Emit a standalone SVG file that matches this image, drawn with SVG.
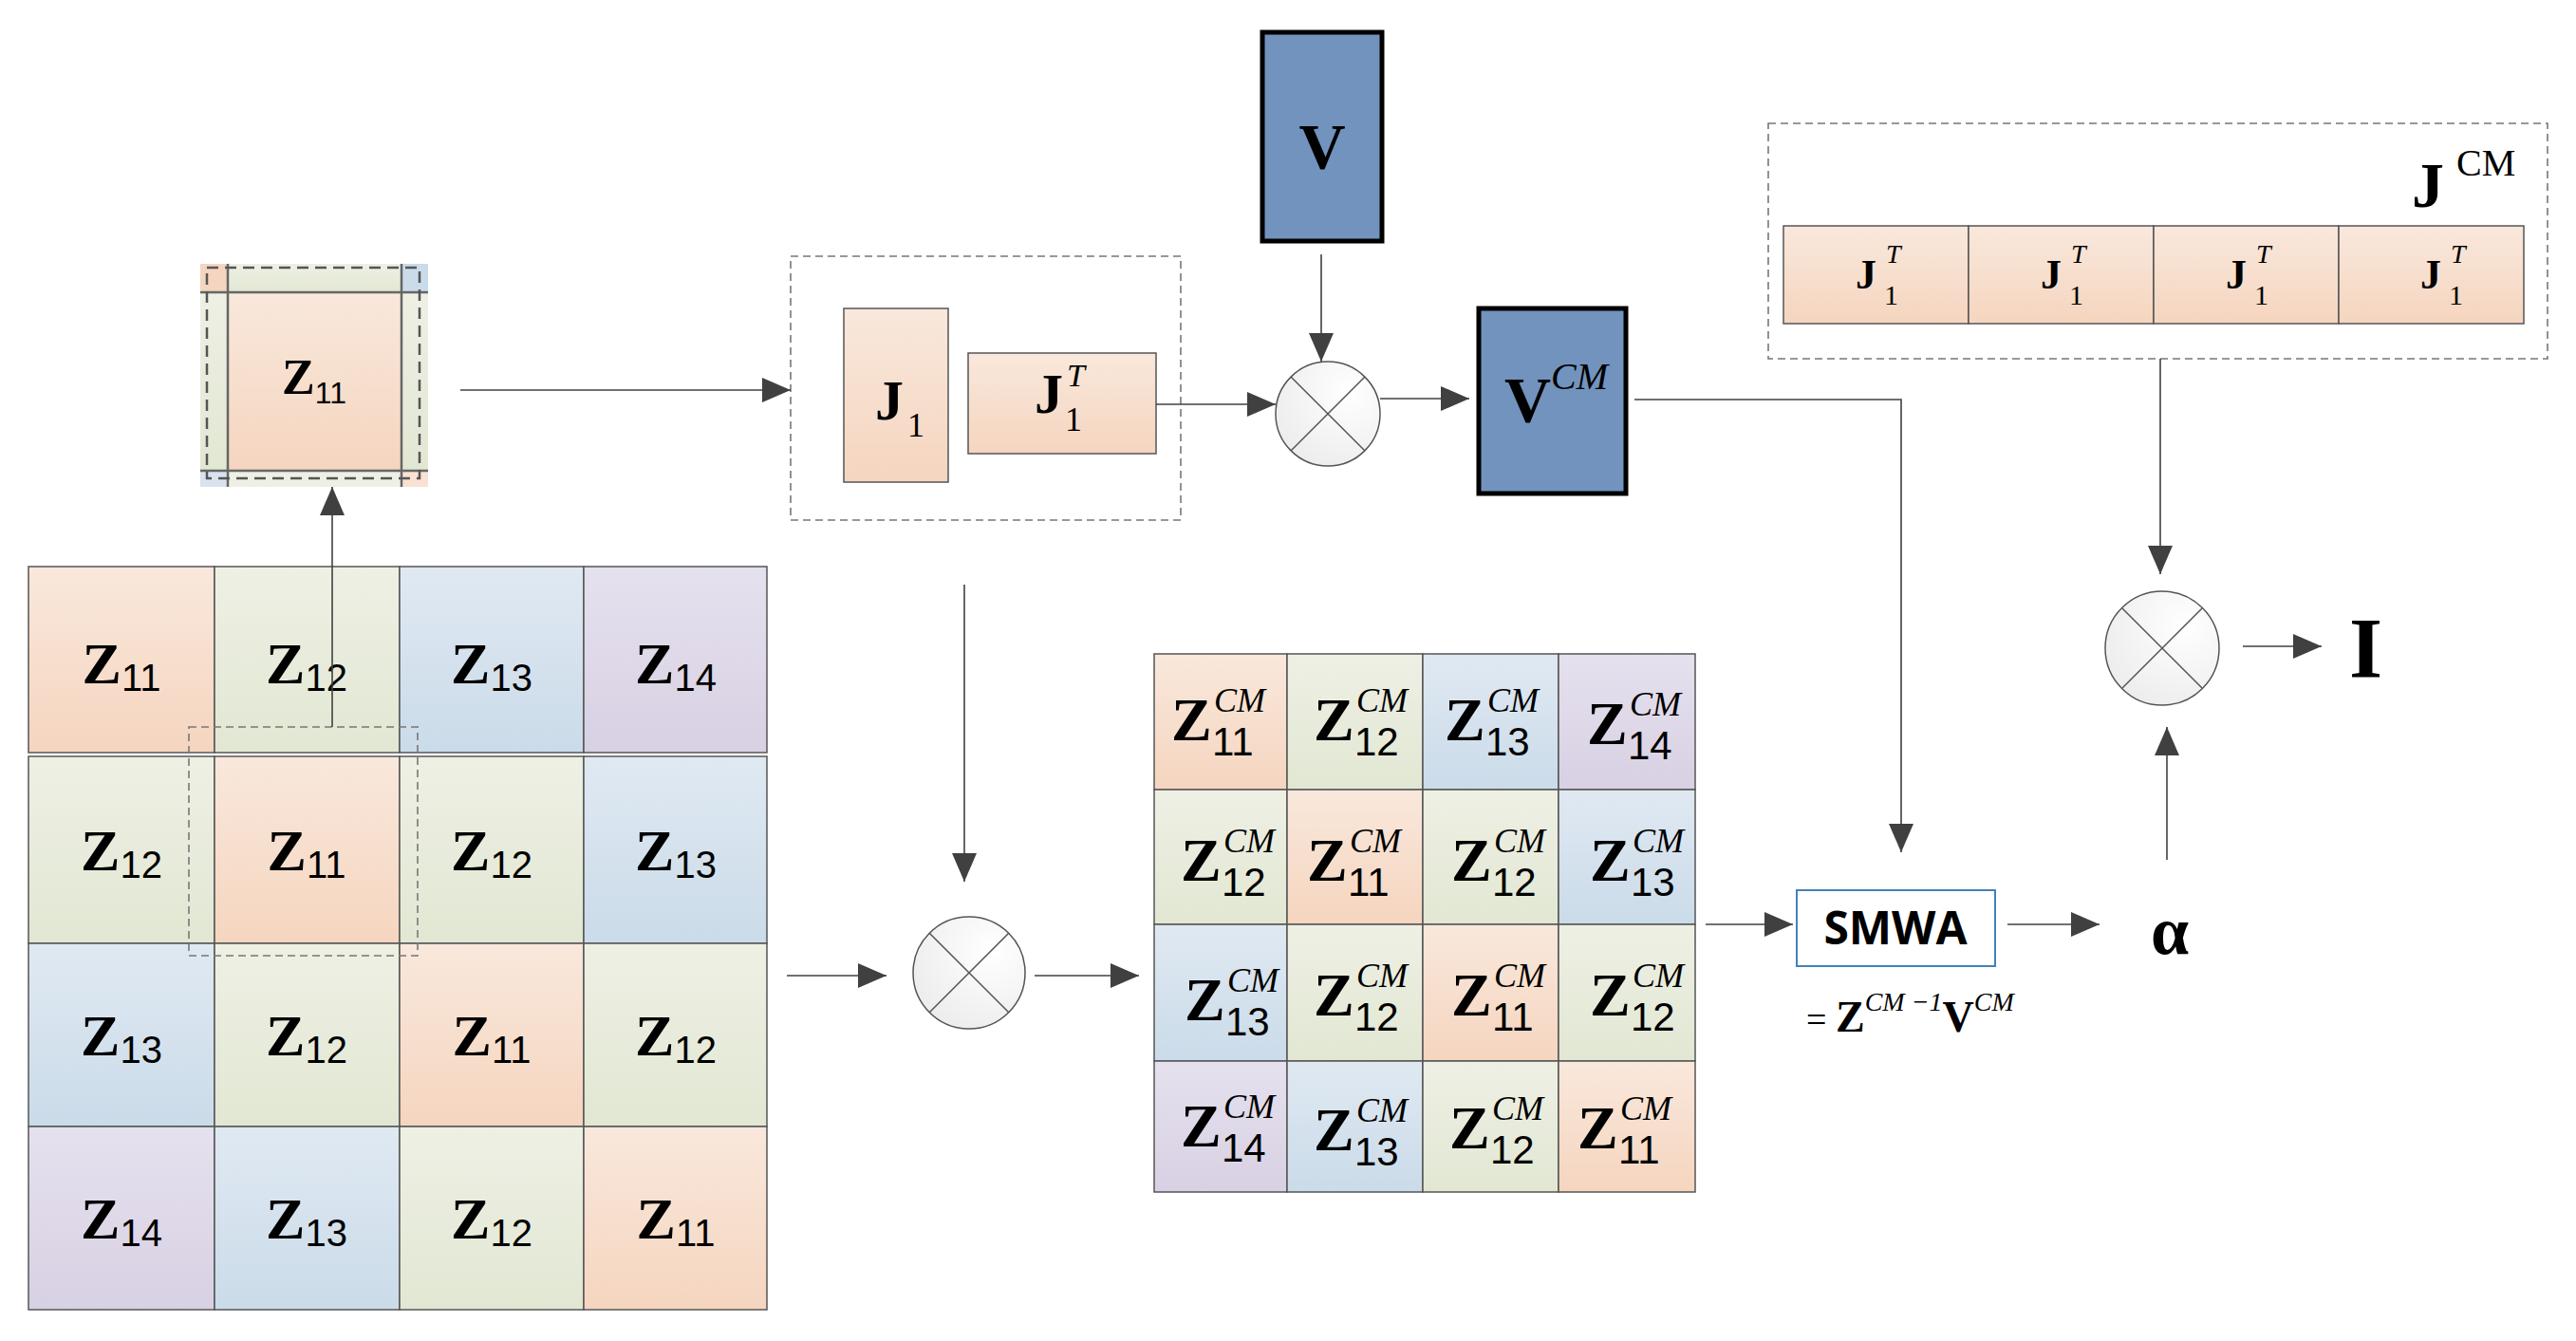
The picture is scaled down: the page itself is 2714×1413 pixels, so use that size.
<svg xmlns="http://www.w3.org/2000/svg" width="2714" height="1413" viewBox="0 0 2714 1413">
<defs>
<linearGradient id="go" x1="0" y1="0" x2="0" y2="1"><stop offset="0" stop-color="#f9e8dc"/><stop offset="1" stop-color="#f5d5bf"/></linearGradient>
<linearGradient id="gg" x1="0" y1="0" x2="0" y2="1"><stop offset="0" stop-color="#eef0e4"/><stop offset="1" stop-color="#e2e7d3"/></linearGradient>
<linearGradient id="gb" x1="0" y1="0" x2="0" y2="1"><stop offset="0" stop-color="#e0e9f2"/><stop offset="1" stop-color="#cadbe9"/></linearGradient>
<linearGradient id="gp" x1="0" y1="0" x2="0" y2="1"><stop offset="0" stop-color="#e5e1ee"/><stop offset="1" stop-color="#d8d0e3"/></linearGradient>
<radialGradient id="gc" cx="0.7" cy="0.3" r="0.8"><stop offset="0" stop-color="#ffffff"/><stop offset="1" stop-color="#ececec"/></radialGradient>
<marker id="ah" markerUnits="userSpaceOnUse" markerWidth="30" markerHeight="26" refX="30" refY="13" orient="auto"><path d="M0,0 L30,13 L0,26 Z" fill="#404040"/></marker>
</defs>
<style>
.c{stroke:#555;stroke-width:1.5}
.ln{stroke:#404040;stroke-width:1.6;fill:none}
.dash{stroke:#777;stroke-width:1.6;fill:none;stroke-dasharray:8 5}
.z{font-family:"Liberation Serif",serif;font-weight:bold;fill:#000}
.s{font-family:"Liberation Sans Narrow","Liberation Sans",sans-serif;font-weight:normal}
.it{font-family:"Liberation Serif",serif;font-style:italic;font-weight:normal}
.rm{font-family:"Liberation Serif",serif;font-weight:normal}
.blue{fill:#7193be;stroke:#000;stroke-width:5}
.mul{fill:url(#gc);stroke:#555;stroke-width:1.5}
</style>

<g id="zblock">
<rect x="211" y="278" width="29" height="30" fill="#f5d5bf"/>
<rect x="240" y="278" width="183" height="30" fill="url(#gg)"/>
<rect x="423" y="278" width="28" height="30" fill="#cadbe9"/>
<rect x="211" y="308" width="29" height="188" fill="url(#gg)"/>
<rect x="240" y="308" width="183" height="188" fill="url(#go)"/>
<rect x="423" y="308" width="28" height="188" fill="url(#gg)"/>
<rect x="211" y="496" width="29" height="17" fill="#d8e3ef"/>
<rect x="240" y="496" width="183" height="17" fill="#eef0e4"/>
<rect x="423" y="496" width="28" height="17" fill="#f9e1d3"/>
<path d="M240,278V513M423,278V513M211,308H451M211,496H451" stroke="#666" stroke-width="2.5"/>
<rect x="218" y="282" width="224" height="222" fill="none" stroke="#555" stroke-width="2.5" stroke-dasharray="12 7"/>
<text x="331" y="415" class="z" font-size="52" text-anchor="middle">Z<tspan class="s" font-size="32" dy="10">11</tspan></text>
</g>

<g id="grid">
<g class="c">
<rect x="30" y="597" width="196" height="196" fill="url(#go)"/><rect x="226" y="597" width="195" height="196" fill="url(#gg)"/><rect x="421" y="597" width="194" height="196" fill="url(#gb)"/><rect x="615" y="597" width="193" height="196" fill="url(#gp)"/>
<rect x="30" y="797" width="196" height="197" fill="url(#gg)"/><rect x="226" y="797" width="195" height="197" fill="url(#go)"/><rect x="421" y="797" width="194" height="197" fill="url(#gg)"/><rect x="615" y="797" width="193" height="197" fill="url(#gb)"/>
<rect x="30" y="994" width="196" height="193" fill="url(#gb)"/><rect x="226" y="994" width="195" height="193" fill="url(#gg)"/><rect x="421" y="994" width="194" height="193" fill="url(#go)"/><rect x="615" y="994" width="193" height="193" fill="url(#gg)"/>
<rect x="30" y="1187" width="196" height="193" fill="url(#gp)"/><rect x="226" y="1187" width="195" height="193" fill="url(#gb)"/><rect x="421" y="1187" width="194" height="193" fill="url(#gg)"/><rect x="615" y="1187" width="193" height="193" fill="url(#go)"/>
</g>
<g class="z" font-size="62" text-anchor="middle">
<text x="128" y="720">Z<tspan class="s" font-size="40" dy="8">11</tspan></text>
<text x="323" y="720">Z<tspan class="s" font-size="40" dy="8">12</tspan></text>
<text x="518" y="720">Z<tspan class="s" font-size="40" dy="8">13</tspan></text>
<text x="712" y="720">Z<tspan class="s" font-size="40" dy="8">14</tspan></text>
<text x="128" y="917">Z<tspan class="s" font-size="40" dy="8">12</tspan></text>
<text x="323" y="917">Z<tspan class="s" font-size="40" dy="8">11</tspan></text>
<text x="518" y="917">Z<tspan class="s" font-size="40" dy="8">12</tspan></text>
<text x="712" y="917">Z<tspan class="s" font-size="40" dy="8">13</tspan></text>
<text x="128" y="1112">Z<tspan class="s" font-size="40" dy="8">13</tspan></text>
<text x="323" y="1112">Z<tspan class="s" font-size="40" dy="8">12</tspan></text>
<text x="518" y="1112">Z<tspan class="s" font-size="40" dy="8">11</tspan></text>
<text x="712" y="1112">Z<tspan class="s" font-size="40" dy="8">12</tspan></text>
<text x="128" y="1305">Z<tspan class="s" font-size="40" dy="8">14</tspan></text>
<text x="323" y="1305">Z<tspan class="s" font-size="40" dy="8">13</tspan></text>
<text x="518" y="1305">Z<tspan class="s" font-size="40" dy="8">12</tspan></text>
<text x="712" y="1305">Z<tspan class="s" font-size="40" dy="8">11</tspan></text>
</g>
<rect x="199" y="766" width="241" height="241" class="dash"/>
</g>

<g id="jbox">
<rect x="833" y="270" width="411" height="278" class="dash"/>
<rect x="889" y="325" width="110" height="183" fill="url(#go)" stroke="#555" stroke-width="1.5"/>
<rect x="1020" y="372" width="198" height="106" fill="url(#go)" stroke="#555" stroke-width="1.5"/>
<text x="922" y="442" class="z" font-size="60">J</text>
<text x="956" y="460" class="rm" font-size="36">1</text>
<text x="1090" y="435" class="z" font-size="60">J</text>
<text x="1124" y="407" class="it" font-size="34">T</text>
<text x="1122" y="454" class="rm" font-size="36">1</text>
</g>

<g id="v"><rect x="1330" y="34" width="126" height="220" class="blue"/><text x="1393" y="177" class="z" font-size="68" text-anchor="middle">V</text></g>
<g id="vcm"><rect x="1558" y="325" width="155" height="195" class="blue"/><text x="1585" y="444" class="z" font-size="68">V<tspan class="it" font-size="40" dy="-34">CM</tspan></text></g>

<g id="mul1"><circle cx="1399" cy="436" r="55" class="mul"/><path d="M1360,397L1438,475M1438,397L1360,475" stroke="#555" stroke-width="1.5"/></g>
<g id="mul2"><circle cx="1021" cy="1025" r="59" class="mul"/><path d="M979,983L1063,1067M1063,983L979,1067" stroke="#555" stroke-width="1.5"/></g>
<g id="mul3"><circle cx="2278" cy="683" r="60" class="mul"/><path d="M2236,641L2320,725M2320,641L2236,725" stroke="#555" stroke-width="1.5"/></g>

<g id="jcm">
<rect x="1863" y="130" width="821" height="248" class="dash"/>
<g class="c"><rect x="1879" y="238" width="195" height="103" fill="url(#go)"/><rect x="2074" y="238" width="195" height="103" fill="url(#go)"/><rect x="2269" y="238" width="195" height="103" fill="url(#go)"/><rect x="2464" y="238" width="195" height="103" fill="url(#go)"/></g>
<g font-size="44">
<text x="1955" y="304" class="z">J</text><text x="1987" y="277" class="it" font-size="28">T</text><text x="1985" y="321" class="rm" font-size="30">1</text>
<text x="2150" y="304" class="z">J</text><text x="2182" y="277" class="it" font-size="28">T</text><text x="2180" y="321" class="rm" font-size="30">1</text>
<text x="2345" y="304" class="z">J</text><text x="2377" y="277" class="it" font-size="28">T</text><text x="2375" y="321" class="rm" font-size="30">1</text>
<text x="2550" y="304" class="z">J</text><text x="2582" y="277" class="it" font-size="28">T</text><text x="2580" y="321" class="rm" font-size="30">1</text>
</g>
<text x="2541" y="218" class="z" font-size="68">J</text><text x="2588" y="185" class="rm" font-size="40">CM</text>
</g>

<g id="zcm">
<g class="c">
<rect x="1216" y="689" width="140" height="143" fill="url(#go)"/><rect x="1356" y="689" width="143" height="143" fill="url(#gg)"/><rect x="1499" y="689" width="143" height="143" fill="url(#gb)"/><rect x="1642" y="689" width="144" height="143" fill="url(#gp)"/>
<rect x="1216" y="832" width="140" height="142" fill="url(#gg)"/><rect x="1356" y="832" width="143" height="142" fill="url(#go)"/><rect x="1499" y="832" width="143" height="142" fill="url(#gg)"/><rect x="1642" y="832" width="144" height="142" fill="url(#gb)"/>
<rect x="1216" y="974" width="140" height="144" fill="url(#gb)"/><rect x="1356" y="974" width="143" height="144" fill="url(#gg)"/><rect x="1499" y="974" width="143" height="144" fill="url(#go)"/><rect x="1642" y="974" width="144" height="144" fill="url(#gg)"/>
<rect x="1216" y="1118" width="140" height="138" fill="url(#gp)"/><rect x="1356" y="1118" width="143" height="138" fill="url(#gb)"/><rect x="1499" y="1118" width="143" height="138" fill="url(#gg)"/><rect x="1642" y="1118" width="144" height="138" fill="url(#go)"/>
</g>
<g font-size="64">
<text x="1234" y="780" class="z">Z</text><text x="1279" y="750" class="it" font-size="36">CM</text><text x="1277" y="796" class="s" font-size="42">11</text>
<text x="1384" y="780" class="z">Z</text><text x="1429" y="750" class="it" font-size="36">CM</text><text x="1427" y="796" class="s" font-size="42">12</text>
<text x="1522" y="780" class="z">Z</text><text x="1567" y="750" class="it" font-size="36">CM</text><text x="1565" y="796" class="s" font-size="42">13</text>
<text x="1672" y="784" class="z">Z</text><text x="1717" y="754" class="it" font-size="36">CM</text><text x="1715" y="800" class="s" font-size="42">14</text>
<text x="1244" y="928" class="z">Z</text><text x="1289" y="898" class="it" font-size="36">CM</text><text x="1287" y="944" class="s" font-size="42">12</text>
<text x="1377" y="928" class="z">Z</text><text x="1422" y="898" class="it" font-size="36">CM</text><text x="1420" y="944" class="s" font-size="42">11</text>
<text x="1529" y="928" class="z">Z</text><text x="1574" y="898" class="it" font-size="36">CM</text><text x="1572" y="944" class="s" font-size="42">12</text>
<text x="1675" y="928" class="z">Z</text><text x="1720" y="898" class="it" font-size="36">CM</text><text x="1718" y="944" class="s" font-size="42">13</text>
<text x="1248" y="1075" class="z">Z</text><text x="1293" y="1045" class="it" font-size="36">CM</text><text x="1291" y="1091" class="s" font-size="42">13</text>
<text x="1384" y="1070" class="z">Z</text><text x="1429" y="1040" class="it" font-size="36">CM</text><text x="1427" y="1086" class="s" font-size="42">12</text>
<text x="1529" y="1070" class="z">Z</text><text x="1574" y="1040" class="it" font-size="36">CM</text><text x="1572" y="1086" class="s" font-size="42">11</text>
<text x="1675" y="1070" class="z">Z</text><text x="1720" y="1040" class="it" font-size="36">CM</text><text x="1718" y="1086" class="s" font-size="42">12</text>
<text x="1244" y="1208" class="z">Z</text><text x="1289" y="1178" class="it" font-size="36">CM</text><text x="1287" y="1224" class="s" font-size="42">14</text>
<text x="1384" y="1212" class="z">Z</text><text x="1429" y="1182" class="it" font-size="36">CM</text><text x="1427" y="1228" class="s" font-size="42">13</text>
<text x="1527" y="1210" class="z">Z</text><text x="1572" y="1180" class="it" font-size="36">CM</text><text x="1570" y="1226" class="s" font-size="42">12</text>
<text x="1662" y="1210" class="z">Z</text><text x="1707" y="1180" class="it" font-size="36">CM</text><text x="1705" y="1226" class="s" font-size="42">11</text>
</g>
</g>

<g id="smwa">
<rect x="1893" y="938" width="209" height="80" fill="#fff" stroke="#2e75b6" stroke-width="1.8"/>
<text x="1997" y="995" font-family="'Open Sans','Liberation Sans',sans-serif" font-weight="bold" font-size="48" text-anchor="middle">SMWA</text>
<text x="1903" y="1087" class="rm" font-size="38">= <tspan class="z" font-size="46">Z</tspan><tspan class="it" font-size="28" dy="-22">CM −1</tspan><tspan class="z" font-size="46" dy="22">V</tspan><tspan class="it" font-size="28" dy="-22">CM</tspan></text>
</g>

<g id="alpha"><text x="2266" y="1005" class="z" font-size="72">α</text></g>
<g id="iout"><text x="2475" y="714" class="z" font-size="90">I</text></g>

<g id="connectors">
<path d="M485,411H833" class="ln" marker-end="url(#ah)"/>
<path d="M350,766V513" class="ln" marker-end="url(#ah)"/>
<path d="M1218,426H1344" class="ln" marker-end="url(#ah)"/>
<path d="M1392,268V381" class="ln" marker-end="url(#ah)"/>
<path d="M1454,420H1548" class="ln" marker-end="url(#ah)"/>
<path d="M1722,421H2003V898" class="ln" marker-end="url(#ah)"/>
<path d="M1016,616V929" class="ln" marker-end="url(#ah)"/>
<path d="M829,1028H934" class="ln" marker-end="url(#ah)"/>
<path d="M1090,1028H1200" class="ln" marker-end="url(#ah)"/>
<path d="M1797,974H1889" class="ln" marker-end="url(#ah)"/>
<path d="M2115,974H2212" class="ln" marker-end="url(#ah)"/>
<path d="M2283,906V766" class="ln" marker-end="url(#ah)"/>
<path d="M2276,378V605" class="ln" marker-end="url(#ah)"/>
<path d="M2363,681H2446" class="ln" marker-end="url(#ah)"/>
</g>
</svg>
